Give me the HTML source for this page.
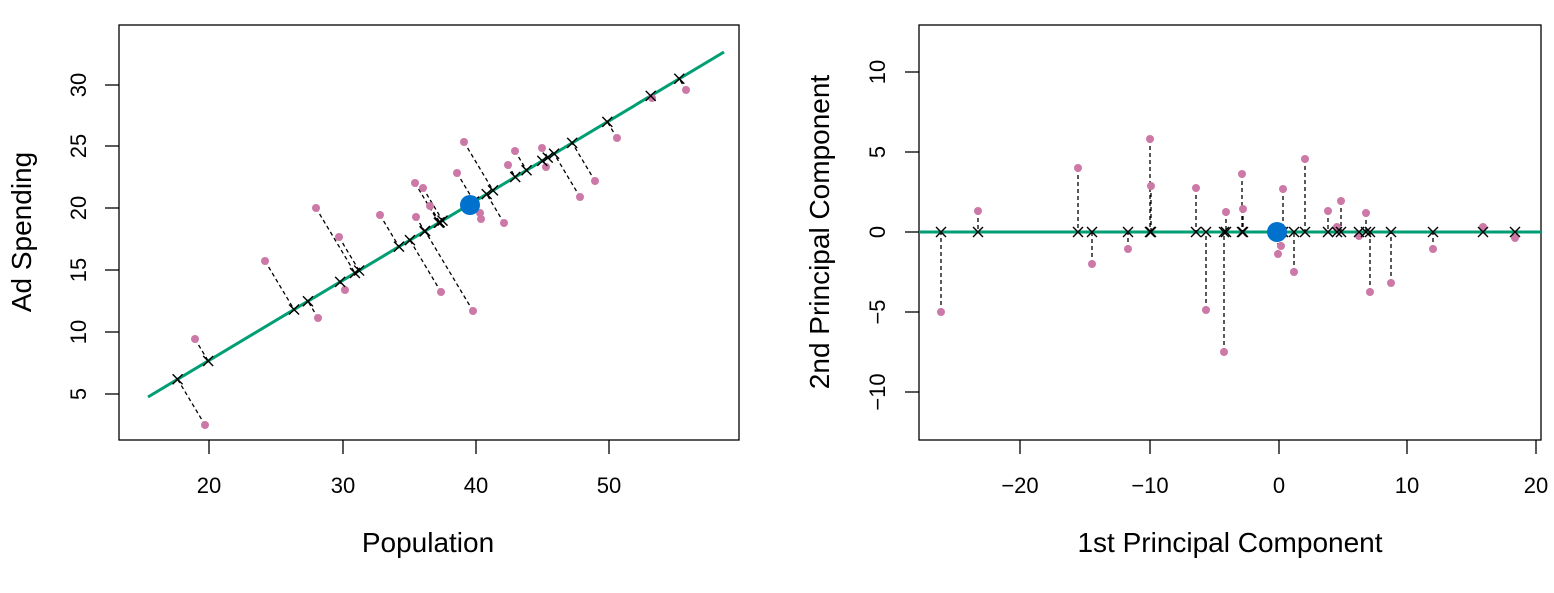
<!DOCTYPE html>
<html><head><meta charset="utf-8"><style>
body{margin:0;background:#fff}
svg text{font-family:"Liberation Sans",sans-serif;fill:#000}
</style></head><body>
<svg id="s" width="1554" height="588" xmlns="http://www.w3.org/2000/svg">
<rect x="119" y="25" width="620" height="415" fill="none" stroke="#000" stroke-width="1.3"/>
<rect x="919" y="25" width="622" height="415" fill="none" stroke="#000" stroke-width="1.3"/>
<g stroke="#000" stroke-width="1.3">
<line x1="209" y1="440" x2="209" y2="454"/><line x1="343" y1="440" x2="343" y2="454"/><line x1="476" y1="440" x2="476" y2="454"/><line x1="609" y1="440" x2="609" y2="454"/>
<line x1="119" y1="394" x2="105" y2="394"/><line x1="119" y1="332" x2="105" y2="332"/><line x1="119" y1="270" x2="105" y2="270"/><line x1="119" y1="208" x2="105" y2="208"/><line x1="119" y1="146" x2="105" y2="146"/><line x1="119" y1="85" x2="105" y2="85"/>
<line x1="1020" y1="440" x2="1020" y2="454"/><line x1="1150" y1="440" x2="1150" y2="454"/><line x1="1279" y1="440" x2="1279" y2="454"/><line x1="1407" y1="440" x2="1407" y2="454"/><line x1="1536" y1="440" x2="1536" y2="454"/>
<line x1="919" y1="72" x2="905" y2="72"/><line x1="919" y1="152" x2="905" y2="152"/><line x1="919" y1="232" x2="905" y2="232"/><line x1="919" y1="312" x2="905" y2="312"/><line x1="919" y1="392" x2="905" y2="392"/>
</g>
<g font-size="22" text-anchor="middle">
<text x="209" y="493">20</text><text x="343" y="493">30</text><text x="476" y="493">40</text><text x="609" y="493">50</text>
<text x="1020" y="493">−20</text><text x="1150" y="493">−10</text><text x="1279" y="493">0</text><text x="1407" y="493">10</text><text x="1536" y="493">20</text>
<g transform="translate(86,0)">
<text transform="translate(0,394) rotate(-90)">5</text><text transform="translate(0,332) rotate(-90)">10</text><text transform="translate(0,270) rotate(-90)">15</text><text transform="translate(0,208) rotate(-90)">20</text><text transform="translate(0,146) rotate(-90)">25</text><text transform="translate(0,85) rotate(-90)">30</text>
</g>
<g transform="translate(885,0)">
<text transform="translate(0,72) rotate(-90)">10</text><text transform="translate(0,152) rotate(-90)">5</text><text transform="translate(0,232) rotate(-90)">0</text><text transform="translate(0,312) rotate(-90)">−5</text><text transform="translate(0,392) rotate(-90)">−10</text>
</g>
</g>
<g font-size="28" text-anchor="middle">
<text x="428" y="552">Population</text>
<text x="1230" y="552">1st Principal Component</text>
<text transform="translate(31,232) rotate(-90)">Ad Spending</text>
<text transform="translate(829,232) rotate(-90)">2nd Principal Component</text>
</g>
<line x1="148" y1="397" x2="724" y2="52" stroke="#009E73" stroke-width="3"/>
<line x1="919" y1="232" x2="1541" y2="232" stroke="#009E73" stroke-width="3"/>
<g id="g"></g>
</svg>
<script>
var g=document.getElementById('g'),h='';
function X(x,y){return '<path d="M'+(x-5)+' '+(y-5)+'L'+(x+5)+' '+(y+5)+'M'+(x-5)+' '+(y+5)+'L'+(x+5)+' '+(y-5)+'" stroke="#000" stroke-width="1.4"/>';}
function P(x,y){return '<circle cx="'+x+'" cy="'+y+'" r="4" fill="#CC79A7"/>';}
function D(a,b,c,d){return '<line x1="'+a+'" y1="'+b+'" x2="'+c+'" y2="'+d+'" stroke="#000" stroke-width="1.3" stroke-dasharray="4,3"/>';}
var L=[[195,339],[205,425],[265,261],[318,318],[316,208],[339,237],[345,290],[380,215],[415,183],[416,217],[430,206],[441,292],[473,311],[457,173],[464,142],[480,213],[481,219],[504,223],[508,165],[515,151],[542,148],[546,167],[580,197],[595,181],[617,138],[652,98],[686,90],[423,188]];
var x0=148,y0=397,dx=576,dy=-345,n=Math.hypot(dx,dy);dx/=n;dy/=n;
var pts='',xs='',ds='';
L.forEach(function(p){var t=(p[0]-x0)*dx+(p[1]-y0)*dy;var qx=x0+t*dx,qy=y0+t*dy;ds+=D(p[0],p[1],qx,qy);xs+=X(qx,qy);pts+=P(p[0],p[1]);});
var R=[[941,312],[978,211],[1078,168],[1092,264],[1128,249],[1150,139],[1151,186],[1196,188],[1206,310],[1224,352],[1226,212],[1242,174],[1243,209],[1278,254],[1281,246],[1283,189],[1294,272],[1305,159],[1328,211],[1337,227],[1341,201],[1359,236],[1366,213],[1370,292],[1391,283],[1433,249],[1483,227],[1515,238]];
R.forEach(function(p){ds+=D(p[0],p[1],p[0],232);xs+=X(p[0],232);pts+=P(p[0],p[1]);});
h=ds+pts+xs+'<circle cx="470" cy="205" r="10" fill="#0072CE"/><circle cx="1277" cy="232" r="10" fill="#0072CE"/>';
g.innerHTML=h;
</script>
</body></html>
